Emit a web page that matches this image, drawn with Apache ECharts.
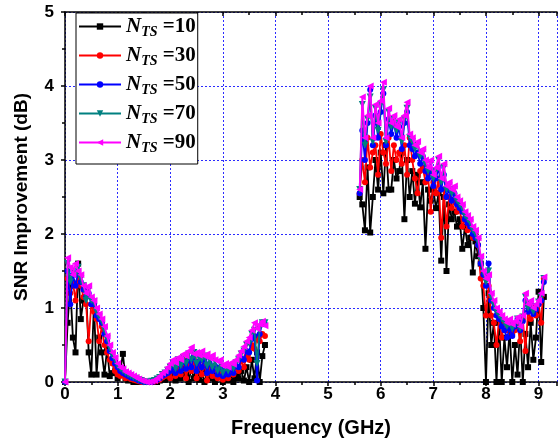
<!DOCTYPE html>
<html>
<head>
<meta charset="utf-8">
<script src="https://cdn.jsdelivr.net/npm/echarts@6/dist/echarts.min.js"></script>
<style>
  html, body { margin: 0; padding: 0; background: #fff; }
  #main { width: 560px; height: 443px; }
</style>
</head>
<body>
<div id="main"></div>
<script>
  // frequency samples (GHz), two measured bands
  var freqLow = [0, 0.05, 0.1, 0.15, 0.2, 0.25, 0.3, 0.35, 0.4, 0.45,
    0.5, 0.55, 0.6, 0.65, 0.7, 0.75, 0.8, 0.85, 0.9, 0.95,
    1, 1.05, 1.1, 1.15, 1.2, 1.25, 1.3, 1.35, 1.4, 1.45,
    1.5, 1.55, 1.6, 1.65, 1.7, 1.75, 1.8, 1.85, 1.9, 1.95,
    2, 2.05, 2.1, 2.15, 2.2, 2.25, 2.3, 2.35, 2.4, 2.45,
    2.5, 2.55, 2.6, 2.65, 2.7, 2.75, 2.8, 2.85, 2.9, 2.95,
    3, 3.05, 3.1, 3.15, 3.2, 3.25, 3.3, 3.35, 3.4, 3.45,
    3.5, 3.55, 3.6, 3.65, 3.7, 3.75, 3.8];
  var freqHigh = [5.6, 5.65, 5.7, 5.75, 5.8, 5.85, 5.9, 5.95, 6, 6.05,
    6.1, 6.15, 6.2, 6.25, 6.3, 6.35, 6.4, 6.45, 6.5, 6.55,
    6.6, 6.65, 6.7, 6.75, 6.8, 6.85, 6.9, 6.95, 7, 7.05,
    7.1, 7.15, 7.2, 7.25, 7.3, 7.35, 7.4, 7.45, 7.5, 7.55,
    7.6, 7.65, 7.7, 7.75, 7.8, 7.85, 7.9, 7.95, 8, 8.05,
    8.1, 8.15, 8.2, 8.25, 8.3, 8.35, 8.4, 8.45, 8.5, 8.55,
    8.6, 8.65, 8.7, 8.75, 8.8, 8.85, 8.9, 8.95, 9, 9.05,
    9.1];

  // SNR improvement (dB) for each N_TS
  var nts10Low = [0.0, 0.8, 1.3, 0.6, 0.4, 1.6, 0.85, 1.1, 1.25, 0.4,
    0.1, 1.05, 0.1, 0.6, 0.4, 0.1, 0.45, 0.08, 0.12, 0.3,
    0.05, 0.15, 0.38, 0.05, 0.02, 0.04, 0.0, 0.02, 0.0, 0.01,
    0.0, 0.0, 0.0, 0.0, 0.01, 0.0, 0.02, 0.05, 0.03, 0.08,
    0.05, 0.12, 0.02, 0.15, 0.05, 0.2, 0.1, 0.0, 0.18, 0.05,
    0.22, 0.03, 0.12, 0.0, 0.15, 0.05, 0.1, 0.0, 0.08, 0.12,
    0.0, 0.06, 0.02, 0.1, 0.0, 0.08, 0.05, 0.15, 0.02, 0.2,
    0.0, 0.3, 0.05, 0.4, 0.0, 0.35, 0.5];
  var nts30Low = [0.0, 1.4, 1.2, 1.35, 1.1, 1.45, 1.3, 1.15, 1.05, 0.55,
    1.05, 0.95, 0.85, 0.55, 0.75, 0.5, 0.4, 0.3, 0.25, 0.15,
    0.1, 0.08, 0.1, 0.05, 0.06, 0.04, 0.03, 0.02, 0.01, 0.0,
    0.0, 0.0, 0.0, 0.0, 0.01, 0.02, 0.03, 0.06, 0.08, 0.1,
    0.05, 0.18, 0.08, 0.22, 0.1, 0.3, 0.05, 0.25, 0.15, 0.3,
    0.05, 0.2, 0.1, 0.25, 0.02, 0.18, 0.08, 0.2, 0.05, 0.15,
    0.03, 0.12, 0.05, 0.15, 0.1, 0.2, 0.15, 0.28, 0.2, 0.35,
    0.3, 0.5, 0.45, 0.6, 0.55, 0.65, 0.62];
  var nts50Low = [0.0, 1.5, 1.05, 1.45, 1.3, 1.5, 1.35, 1.25, 1.15, 1.2,
    1.05, 1.05, 0.9, 0.85, 0.8, 0.65, 0.55, 0.42, 0.32, 0.25,
    0.2, 0.15, 0.12, 0.1, 0.08, 0.06, 0.05, 0.04, 0.02, 0.01,
    0.0, 0.0, 0.0, 0.0, 0.02, 0.03, 0.05, 0.08, 0.1, 0.12,
    0.15, 0.2, 0.12, 0.25, 0.15, 0.28, 0.18, 0.3, 0.2, 0.35,
    0.15, 0.28, 0.2, 0.3, 0.12, 0.25, 0.15, 0.22, 0.1, 0.2,
    0.08, 0.15, 0.1, 0.18, 0.12, 0.22, 0.2, 0.32, 0.3, 0.42,
    0.4, 0.58, 0.62, 0.02, 0.65, 0.8, 0.78];
  var nts70Low = [0.0, 1.6, 1.35, 1.5, 1.45, 1.55, 1.4, 1.3, 1.1, 1.25,
    1.1, 1.08, 0.95, 0.88, 0.82, 0.7, 0.58, 0.46, 0.36, 0.3,
    0.22, 0.18, 0.15, 0.12, 0.1, 0.08, 0.06, 0.05, 0.03, 0.02,
    0.0, 0.0, 0.0, 0.01, 0.02, 0.04, 0.06, 0.1, 0.12, 0.16,
    0.2, 0.26, 0.18, 0.3, 0.22, 0.33, 0.25, 0.38, 0.3, 0.4,
    0.25, 0.32, 0.3, 0.35, 0.22, 0.3, 0.2, 0.28, 0.15, 0.25,
    0.12, 0.2, 0.15, 0.22, 0.18, 0.26, 0.3, 0.38, 0.42, 0.5,
    0.52, 0.65, 0.7, 0.25, 0.72, 0.8, 0.8];
  var nts90Low = [0.0, 1.68, 1.55, 1.45, 1.6, 1.5, 1.45, 1.3, 1.2, 1.3,
    1.15, 1.1, 1.0, 0.92, 0.85, 0.75, 0.62, 0.5, 0.4, 0.33,
    0.25, 0.2, 0.18, 0.14, 0.12, 0.1, 0.08, 0.06, 0.04, 0.02,
    0.01, 0.0, 0.0, 0.01, 0.02, 0.05, 0.08, 0.12, 0.15, 0.2,
    0.25, 0.3, 0.26, 0.33, 0.3, 0.38, 0.35, 0.42, 0.47, 0.38,
    0.4, 0.36, 0.42, 0.35, 0.38, 0.32, 0.36, 0.3, 0.28, 0.3,
    0.22, 0.25, 0.2, 0.26, 0.24, 0.3, 0.36, 0.42, 0.48, 0.55,
    0.6, 0.7, 0.8, 0.72, 0.78, 0.82, 0.76];

  var nts10High = [2.5, 2.4, 2.05, 2.9, 2.02, 2.5, 3.0, 2.6, 3.1, 2.55,
    3.2, 2.6, 2.6, 3.0, 2.75, 2.85, 3.1, 2.2, 3.0, 2.5,
    2.85, 2.41, 2.8, 2.36, 2.7, 1.8, 2.6, 2.45, 2.6, 2.35,
    2.55, 1.64, 2.5, 1.5, 2.4, 2.2, 2.3, 2.1, 2.2, 1.8,
    2.1, 1.85, 1.95, 1.48, 1.9, 1.7, 1.6, 1.0, 0.0, 1.2,
    0.5, 0.8, 0.0, 0.8, 0.0, 0.6, 0.2, 0.7, 0.0, 0.5,
    0.1, 0.75, 0.0, 0.65, 0.2, 0.8, 0.3, 0.6, 1.22, 0.27,
    1.15];
  var nts30High = [2.55, 3.0, 2.7, 3.3, 2.9, 3.1, 3.2, 2.8, 3.35, 3.1,
    2.95, 3.3, 2.85, 3.2, 3.0, 3.1, 2.95, 3.2, 2.8, 3.3,
    3.0, 2.75, 2.55, 2.85, 2.9, 2.7, 2.8, 2.3, 2.7, 2.55,
    2.75, 1.95, 2.6, 2.1, 2.5, 2.35, 2.45, 2.3, 2.35, 2.1,
    2.2, 2.05, 2.1, 1.95, 2.0, 1.85, 1.4, 1.3, 0.9, 1.3,
    0.9, 0.8, 0.5, 0.85, 0.6, 0.8, 0.7, 0.75, 0.65, 0.7,
    0.75, 0.55, 0.85, 0.42, 0.95, 0.85, 1.0, 0.9, 1.05, 0.8,
    1.4];
  var nts50High = [2.55, 3.4, 3.0, 3.5, 3.95, 3.2, 3.6, 3.3, 3.65, 3.9,
    3.2, 3.55, 3.35, 3.5, 3.3, 3.45, 3.15, 3.5, 3.65, 3.2,
    3.15, 3.05, 3.1, 2.95, 3.05, 2.85, 2.75, 2.85, 2.65, 2.75,
    2.9, 2.6, 2.8, 2.5, 2.6, 2.45, 2.55, 2.4, 2.35, 2.3,
    2.2, 2.15, 2.1, 2.0, 1.95, 1.85, 1.6, 1.45, 1.3, 1.6,
    1.1, 1.0, 0.9, 0.85, 0.75, 0.7, 0.6, 0.72, 0.62, 0.75,
    0.85, 0.7, 0.82, 1.1, 0.95, 1.0, 0.92, 0.98, 1.05, 1.1,
    1.35];
  var nts70High = [2.6, 3.75, 3.2, 3.55, 3.85, 3.25, 3.7, 3.4, 3.75, 3.95,
    3.25, 3.65, 3.45, 3.55, 3.4, 3.5, 3.25, 3.55, 3.7, 3.3,
    3.25, 3.15, 3.2, 3.05, 3.1, 2.95, 2.85, 2.95, 2.75, 2.85,
    3.0, 2.7, 2.9, 2.6, 2.65, 2.55, 2.6, 2.45, 2.4, 2.35,
    2.25, 2.2, 2.15, 2.05, 2.0, 1.9, 1.65, 1.48, 1.35, 1.5,
    1.15, 1.05, 0.95, 0.9, 0.85, 0.8, 0.75, 0.8, 0.72, 0.78,
    0.85, 0.72, 0.88, 1.15, 1.0, 1.05, 0.95, 1.02, 1.08, 1.15,
    1.4];
  var nts90High = [2.6, 3.85, 3.3, 3.6, 4.0, 3.3, 3.75, 3.5, 3.8, 4.05,
    3.3, 3.7, 3.5, 3.6, 3.45, 3.55, 3.3, 3.6, 3.78, 3.35,
    3.3, 3.2, 3.25, 3.1, 3.15, 3.0, 2.9, 3.0, 2.8, 2.9,
    3.05, 2.75, 2.95, 2.65, 2.7, 2.6, 2.65, 2.5, 2.45, 2.4,
    2.3, 2.25, 2.2, 2.1, 2.05, 1.95, 1.7, 1.5, 1.4, 1.45,
    1.2, 1.1, 1.0, 0.95, 0.9, 0.85, 0.8, 0.85, 0.78, 0.82,
    0.88, 0.75, 0.9, 1.2, 1.05, 1.1, 1.0, 1.05, 1.1, 1.2,
    1.42];

  var ntsValues = [10, 30, 50, 70, 90];

  var styles = [
    { color: '#000000', symbol: 'rect', size: 6, rotate: 0 },
    { color: '#ff0000', symbol: 'circle', size: 6, rotate: 0 },
    { color: '#0000ff', symbol: 'circle', size: 6, rotate: 0 },
    { color: '#008080', symbol: 'triangle', size: 7, rotate: 180 },
    { color: '#ff00ff', symbol: 'triangle', size: 7, rotate: 90 }
  ];
  var lowSets = [nts10Low, nts30Low, nts50Low, nts70Low, nts90Low];
  var highSets = [nts10High, nts30High, nts50High, nts70High, nts90High];

  function pairs(xs, ys) {
    return xs.map(function (x, i) { return [x, ys[i]]; });
  }

  var series = [];
  ntsValues.forEach(function (n, k) {
    var st = styles[k];
    [pairs(freqLow, lowSets[k]), pairs(freqHigh, highSets[k])].forEach(function (d) {
      series.push({
        name: 'N' + n,
        type: 'line',
        data: d,
        symbol: st.symbol,
        symbolSize: st.size,
        symbolRotate: st.rotate,
        showAllSymbol: true,
        lineStyle: { color: st.color, width: 1.8 },
        itemStyle: { color: st.color },
        z: 2 + k
      });
    });
  });

  var gridLine = { show: true, lineStyle: { color: '#2b2bff', width: 1, type: [2, 2] } };
  var blackLine = { show: true, lineStyle: { color: '#000', width: 1.5 } };

  var chart = echarts.init(document.getElementById('main'));
  chart.setOption({
    animation: false,
    backgroundColor: '#fff',
    grid: { left: 65, right: 1, top: 12, bottom: 61 },
    legend: {
      orient: 'vertical',
      left: 76,
      top: 13,
      data: ntsValues.map(function (n) { return 'N' + n; }),
      itemWidth: 42,
      itemHeight: 8,
      itemGap: 6,
      padding: [3, 2, 9, 2],
      borderColor: '#000',
      borderWidth: 1,
      backgroundColor: '#fff',
      formatter: function (name) {
        return '{n|N}{s|TS}{e| =' + name.slice(1) + '}';
      },
      textStyle: {
        rich: {
          n: { fontFamily: 'Liberation Serif', fontStyle: 'italic', fontWeight: 'bold', fontSize: 21, lineHeight: 25, color: '#000' },
          s: { fontFamily: 'Liberation Serif', fontStyle: 'italic', fontWeight: 'bold', fontSize: 14, lineHeight: 14, verticalAlign: 'bottom', color: '#000' },
          e: { fontFamily: 'Liberation Serif', fontWeight: 'bold', fontSize: 21, lineHeight: 25, color: '#000' }
        }
      }
    },
    xAxis: [{
      type: 'value',
      min: 0,
      max: 9.35,
      interval: 1,
      name: 'Frequency (GHz)',
      nameLocation: 'middle',
      nameGap: 36,
      nameTextStyle: { fontFamily: 'Liberation Sans', fontWeight: 'bold', fontSize: 20, color: '#000' },
      axisLine: blackLine,
      axisTick: { show: true, length: 4, lineStyle: { color: '#000', width: 1.5 } },
      minorTick: { show: true, splitNumber: 2, length: 3, lineStyle: { color: '#000', width: 1.5 } },
      axisLabel: {
        margin: 4,
        fontFamily: 'Liberation Sans', fontWeight: 'bold', fontSize: 17, color: '#000',
        formatter: function (v) { return Number.isInteger(v) ? String(v) : ''; }
      },
      splitLine: gridLine
    }, {
      type: 'value',
      position: 'top',
      min: 0,
      max: 9.35,
      interval: 1,
      axisLine: blackLine,
      axisTick: { show: true, inside: true, length: 4, lineStyle: { color: '#000', width: 1.5 } },
      minorTick: { show: true, splitNumber: 2, length: 3, lineStyle: { color: '#000', width: 1.5 } },
      axisLabel: { show: false },
      splitLine: { show: false }
    }],
    yAxis: {
      type: 'value',
      min: 0,
      max: 5,
      interval: 1,
      name: 'SNR Improvement (dB)',
      nameLocation: 'middle',
      nameGap: 34,
      nameTextStyle: { fontFamily: 'Liberation Sans', fontWeight: 'bold', fontSize: 19, color: '#000' },
      axisLine: blackLine,
      axisTick: { show: true, length: 4, lineStyle: { color: '#000', width: 1.5 } },
      minorTick: { show: true, splitNumber: 2, length: 3, lineStyle: { color: '#000', width: 1.5 } },
      axisLabel: { margin: 11, fontFamily: 'Liberation Sans', fontWeight: 'bold', fontSize: 17, color: '#000' },
      splitLine: gridLine
    },
    series: series
  });
</script>
</body>
</html>
